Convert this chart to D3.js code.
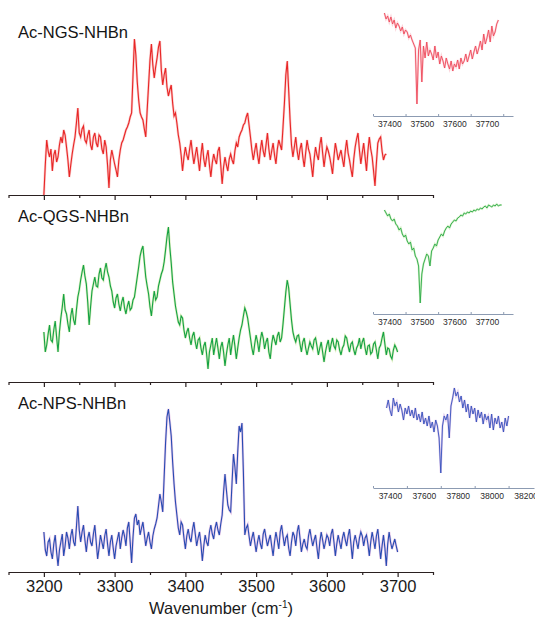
<!DOCTYPE html>
<html>
<head>
<meta charset="utf-8">
<script src="https://cdn.jsdelivr.net/npm/d3@7"></script>
<style>
  body { margin: 0; background: #fff; }
  svg { display: block; font-family: "Liberation Sans", Arial, sans-serif; }
</style>
</head>
<body>
<div id="chart"></div>
<script>
// sampling grids (cm-1)
const mainStart = 3200, mainStep = 2
const insetStep = 5, npsInsetStep = 10

const titles = ["Ac-NGS-NHBn", "Ac-QGS-NHBn", "Ac-NPS-NHBn"]
const mainTicks = [3200, 3300, 3400, 3500, 3600, 3700]
const mainMinor = [3150, 3250, 3350, 3450, 3550, 3650, 3750]
const insetTicks = [37400, 37500, 37600, 37700]
const insetMinor = [37350, 37450, 37550, 37650, 37750]
const npsInsetTicks = [37400, 37600, 37800, 38000, 38200]
const npsInsetMinor = [37300, 37500, 37700, 37900, 38100]

// main spectra, intensity (arb.), from 3200 cm-1 every 2 cm-1
const ngs = [
  0,30,55,44,38,46, 24,40,45,33,38,50, 58,52,65,60,48,35, 18,30,41,50,58,72,
  87,62,58,66,69,55, 52,60,65,50,45,58, 62,52,48,60,58,46, 41,55,48,30,7,35,
  45,38,31,25,18,35, 45,52,55,60,65,68, 72,78,82,120,156,140, 113,95,82,78,75,66,
  58,85,110,135,151,130, 117,128,137,148,154,125, 110,120,127,108,99,105, 110,92,79,82,72,60,
  52,40,24,38,48,40, 35,46,55,42,31,40, 48,36,24,40,52,36, 28,38,45,30,18,32,
  41,35,31,44,48,30, 11,28,38,30,24,36, 41,35,31,44,52,48, 58,62,65,70,72,78,
  82,70,58,45,35,44, 52,40,31,45,55,44, 38,50,62,46,35,44, 52,40,31,46,55,50,
  45,68,92,120,134,105, 75,50,38,48,58,44, 35,46,52,38,28,42, 55,46,41,30,18,36,
  48,40,35,50,58,42, 28,40,48,44,38,30, 21,38,52,44,35,40, 45,36,28,44,55,42,
  35,26,18,36,48,56, 62,45,31,42,52,38, 24,44,58,46,38,24, 9,32,52,56,58,44,
  35,40,41]
const qgs = [
  50,30,37,48,57,42, 40,52,61,45,30,50, 64,75,88,72,68,58, 50,66,74,62,57,72,
  85,92,102,110,117,106, 98,80,57,75,91,98, 105,96,95,108,114,104, 102,112,119,110,105,96,
  91,80,74,84,88,78, 71,80,85,74,68,76, 81,72,74,82,85,95, 105,115,126,132,136,120,
  105,96,88,75,66,80, 91,82,85,96,102,108, 112,120,132,145,155,135, 119,100,88,76,68,60,
  57,66,64,52,44,50, 54,44,37,46,50,40, 33,42,44,34,27,36, 40,28,13,30,37,44,
  27,36,44,34,23,35, 40,30,16,28,37,44, 27,38,47,36,23,34, 44,52,57,66,74,70,
  64,54,44,34,27,38, 47,40,30,42,50,44, 33,40,44,30,23,38, 47,42,37,46,50,40,
  44,58,74,90,102,94, 78,62,50,44,40,46, 47,38,30,40,44,34, 27,34,40,36,33,42,
  44,36,27,34,40,30, 20,30,37,42,30,38, 44,36,33,42,40,32, 27,34,37,46,44,36,
  30,38,40,32,27,34, 37,44,33,40,44,34, 27,36,37,28,30,38, 40,32,23,34,37,44,
  50,38,27,34,33,26, 23,32,37,34,30]
const nps = [
  40,22,16,30,33,20, 13,28,37,20,6,22, 30,38,16,26,40,34, 23,36,43,30,26,45,
  66,42,30,40,47,32, 20,34,40,30,26,38, 47,30,13,24,37,30, 23,36,43,28,16,30,
  37,24,13,26,33,40, 23,34,42,36,26,44, 50,30,9,35,54,58, 47,52,37,44,50,38,
  26,34,40,30,23,36, 43,48,54,66,78,70, 60,95,129,155,163,150, 136,110,88,70,57,44,
  37,50,47,34,23,36, 43,34,30,42,50,38, 26,34,40,28,11,26, 37,30,26,40,47,38,
  33,44,50,42,37,48, 57,80,98,82,67,62, 60,90,118,105,88,120, 146,140,149,100,37,44,
  47,36,26,34,40,30, 20,30,37,28,23,38, 43,34,26,32,37,26, 16,30,40,32,23,40,
  47,36,26,34,37,24, 16,30,40,36,26,40, 47,34,20,28,33,26, 23,36,43,34,26,32,
  37,24,13,30,40,32, 23,30,37,34,26,38, 43,30,16,28,37,30, 23,34,40,32,26,36,
  43,28,13,30,37,30, 23,34,40,36,26,34, 37,28,16,30,40,32, 23,36,43,28,13,26,
  37,24,6,28,40,30, 23,28,33,26,20]

// insets (near-IR region), intensity (arb.)
const ngsInsetStart = 37385
const ngsInset = [103,97,100,94,99,92,96,88,93,90, 85,89,82,86,84,78,81,76,72,68,
  12,66,76,34,70,58,74,60,66,62, 56,70,58,64,52,60,55,48,58,52, 47,55,45,52,49,56,47,58,52,55,
  62,54,60,66,57,64,70,62,68,75, 66,82,72,78,86,74,90,80,84,92,96]
const qgsInsetStart = 37385
const qgsInset = [104,101,98,100,95,93,95,90,88,84,86,80,77,79,73,70,72,64,66,58,55,48,11,40,50,55,60,58,48,63,
  66,70,68,74,77,80,78,83,86,88,86,90,92,94,93,96,97,99,98,101,100,102,101,103,102,104,103,105,104,106,105,107,
  108,106,109,108,107,109,108,110,108,109,109]
const npsInsetStart = 37380
const npsInset = [80,88,78,72,90,82,86,76,84,78, 68,80,74,82,72,78,70,80,68,74,
  66,76,64,70,62,72,60,66,56,68, 62,50,15,62,72,68,74,50,82,90, 100,92,96,86,92,80,88,76,84,70,
  82,74,80,66,78,70,76,64,74,68, 72,60,74,58,70,64,72,60,66,56, 70,62,72]

const width = 535, height = 618

const svg = d3.select("#chart").append("svg")
  .attr("width", width)
  .attr("height", height)

const x = d3.scaleLinear().domain([3150, 3750]).range([8.5, 433])

const panels = [
  { title: titles[0], data: ngs, axisY: 195, titleY: 38, color: "#e82626", halo: "#f59a9a",
    inset: { data: ngsInset, start: ngsInsetStart, step: insetStep, axisY: 116,
      domain: [37350, 37780], range: [373, 513],
      ticks: insetTicks, minor: insetMinor, color: "#ee4a5a", halo: "#f9b6bf" } },
  { title: titles[1], data: qgs, axisY: 382, titleY: 222, color: "#14a244", halo: "#bfe08a",
    inset: { data: qgsInset, start: qgsInsetStart, step: insetStep, axisY: 314,
      domain: [37350, 37780], range: [373, 513],
      ticks: insetTicks, minor: insetMinor, color: "#2aaa48", halo: "#b8e4a0" } },
  { title: titles[2], data: nps, axisY: 572, titleY: 409, color: "#274cb2", halo: "#d9a0d8",
    inset: { data: npsInset, start: npsInsetStart, step: npsInsetStep, axisY: 488,
      domain: [37300, 38250], range: [373, 534],
      ticks: npsInsetTicks, minor: npsInsetMinor, color: "#3552bd", halo: "#c9a6df" } }
]

panels.forEach(function(p, i) {
  let g = svg.append("g")

  let y = d3.scaleLinear().domain([0, 160]).range([p.axisY, p.axisY - 160])

  let line = d3.line()
    .x((d, k) => x(mainStart + k * mainStep))
    .y(d => y(d))

  // soft halo under the trace
  g.append("path")
    .datum(p.data)
    .attr("fill", "none")
    .attr("stroke", p.halo)
    .attr("stroke-width", 2.4)
    .attr("stroke-opacity", 0.55)
    .attr("d", line)

  g.append("path")
    .datum(p.data)
    .attr("fill", "none")
    .attr("stroke", p.color)
    .attr("stroke-width", 1.1)
    .attr("d", line)

  // bottom axis
  let axis = g.append("g")
    .attr("transform", "translate(0," + p.axisY + ")")
    .call(d3.axisBottom(x).tickValues(mainTicks).tickSizeInner(5).tickSizeOuter(0)
      .tickFormat(i == 2 ? d3.format("d") : ""))
  axis.select(".domain").attr("stroke", "#2a2020").attr("stroke-width", 1.2)
  axis.selectAll(".tick line").attr("stroke", "#2a2020").attr("stroke-width", 1.2)
  axis.selectAll(".tick text")
    .attr("fill", "#1a1a1a")
    .style("font-size", "16.5px")
    .attr("y", 8)

  let minor = g.append("g")
    .attr("transform", "translate(0," + p.axisY + ")")
    .call(d3.axisBottom(x).tickValues(mainMinor).tickSizeInner(3).tickSizeOuter(0).tickFormat(""))
  minor.select(".domain").remove()
  minor.selectAll(".tick line").attr("stroke", "#2a2020").attr("stroke-width", 1.2)

  // panel label
  g.append("text")
    .attr("x", 18)
    .attr("y", p.titleY)
    .attr("fill", "#151515")
    .style("font-size", "16.5px")
    .text(p.title)

  // inset
  let ins = p.inset
  let xi = d3.scaleLinear().domain(ins.domain).range(ins.range)
  let yi = d3.scaleLinear().domain([0, 110]).range([ins.axisY, ins.axisY - 110])

  let iline = d3.line()
    .x((d, k) => xi(ins.start + k * ins.step))
    .y(d => yi(d))

  g.append("path")
    .datum(ins.data)
    .attr("fill", "none")
    .attr("stroke", ins.halo)
    .attr("stroke-width", 2)
    .attr("stroke-opacity", 0.6)
    .attr("d", iline)
  g.append("path")
    .datum(ins.data)
    .attr("fill", "none")
    .attr("stroke", ins.color)
    .attr("stroke-width", 0.9)
    .attr("d", iline)

  let iaxis = g.append("g")
    .attr("transform", "translate(0," + ins.axisY + ")")
    .call(d3.axisBottom(xi).tickValues(ins.ticks).tickSizeInner(0).tickSizeOuter(0).tickFormat(d3.format("d")))
  iaxis.select(".domain").attr("stroke", "#8c9bb2").attr("stroke-width", 1)
  iaxis.selectAll(".tick text")
    .attr("fill", "#2a2a2a")
    .attr("y", 5)
    .style("font-size", "8.5px")

  let iminor = g.append("g")
    .attr("transform", "translate(0," + ins.axisY + ")")
    .call(d3.axisBottom(xi).tickValues(ins.minor).tickSizeInner(-2).tickSizeOuter(0).tickFormat(""))
  iminor.select(".domain").remove()
  iminor.selectAll(".tick line").attr("stroke", "#8c9bb2")
})

// x axis title
let xt = svg.append("text")
  .attr("x", 221)
  .attr("y", 614)
  .attr("text-anchor", "middle")
  .attr("fill", "#1a1a1a")
  .style("font-size", "16.5px")
xt.append("tspan").text("Wavenumber (cm")
xt.append("tspan").attr("dy", -6).style("font-size", "10px").text("-1")
xt.append("tspan").attr("dy", 6).text(")")
</script>
</body>
</html>
